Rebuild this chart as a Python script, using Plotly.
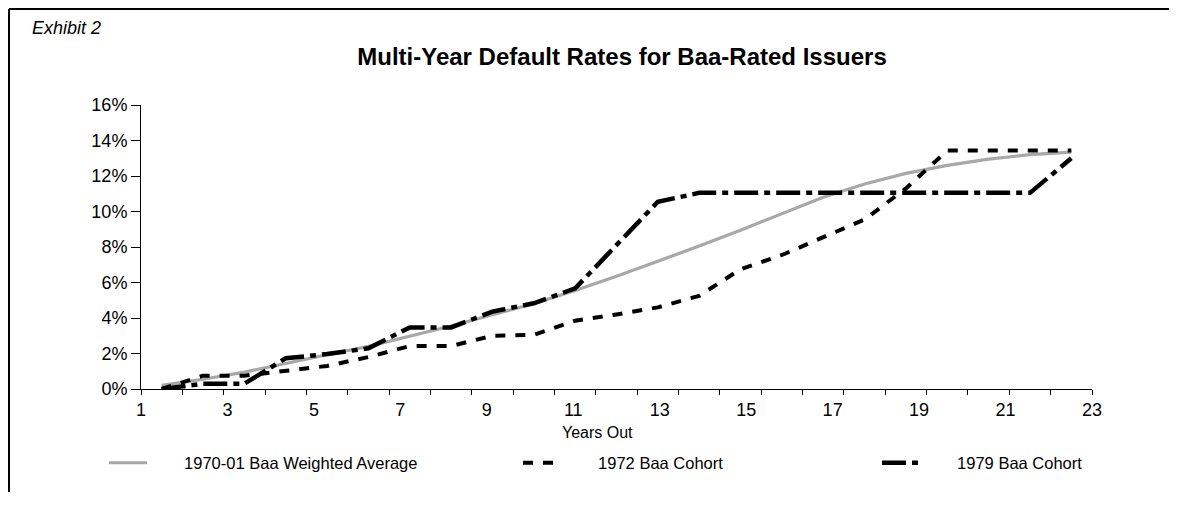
import plotly.graph_objects as go

years = list(range(1, 24))
weighted_avg = [0.2, 0.55, 0.95, 1.45, 1.93, 2.4, 2.98, 3.55, 4.18, 4.82, 5.55, 6.35,
                7.2, 8.05, 8.95, 9.88, 10.8, 11.55, 12.15, 12.6, 12.95, 13.2, 13.35]
cohort_1972 = [0.0, 0.75, 0.75, 1.05, 1.3, 1.8, 2.42, 2.42, 3.0, 3.05, 3.85, 4.2,
               4.6, 5.25, 6.75, 7.55, 8.55, 9.55, 11.3, 13.43, 13.43, 13.43, 13.43]
cohort_1979 = [0.0, 0.3, 0.3, 1.73, 1.97, 2.29, 3.47, 3.47, 4.36, 4.83, 5.67, 8.1,
               10.55, 11.05, 11.05, 11.05, 11.05, 11.05, 11.05, 11.05, 11.05, 11.05, 13.0]
series_names = ["1970-01 Baa Weighted Average", "1972 Baa Cohort", "1979 Baa Cohort"]
x_tick_labels = [1, 3, 5, 7, 9, 11, 13, 15, 17, 19, 21, 23]
y_ticks = [0, 2, 4, 6, 8, 10, 12, 14, 16]

FONT = "Liberation Sans, Arial, Helvetica, sans-serif"
PAD = "\u00a0" * 7

fig = go.Figure()
fig.add_trace(go.Scatter(x=years, y=weighted_avg, mode="lines", name=PAD + series_names[0],
                         line=dict(color="#a8a8a8", width=3.2), legend="legend"))
fig.add_trace(go.Scatter(x=years, y=cohort_1972, mode="lines", name=PAD + series_names[1],
                         line=dict(color="black", width=4, dash="10px,10px"), legend="legend2"))
fig.add_trace(go.Scatter(x=years, y=cohort_1979, mode="lines", name=PAD + series_names[2],
                         line=dict(color="black", width=4.5, dash="24px,6px,6px,6px"), legend="legend3"))

n = len(years)
lo, hi = years[0] - 0.5, years[-1] + 0.5
first, last = x_tick_labels[0], x_tick_labels[-1]
label_pos = [lo + (k - first) * (hi - lo) / (last - first) for k in x_tick_labels]

OFF = 8  # page body margin
W, H = 1183 - 2 * OFF - 6, 506 - 2 * OFF - 6
L, T = 141 - OFF, 105 - OFF
R = W - (1092 - OFF)
B = H - (389 - OFF)
pw, ph = W - L - R, H - T - B

def sx(px):
    return (px - OFF - L) / pw

def sy(py):
    return (H - B - (py - OFF)) / ph

leg_common = dict(orientation="h", xanchor="left", yanchor="middle",
                  font=dict(family=FONT, size=16.5, color="black"),
                  bgcolor="rgba(0,0,0,0)", borderwidth=0, itemwidth=38)

fig.update_layout(
    width=W, height=H, autosize=False, showlegend=True,
    margin=dict(l=L, r=R, t=T, b=B),
    paper_bgcolor="white", plot_bgcolor="white",
    title=dict(text="<b>Multi-Year Default Rates for Baa-Rated Issuers</b>",
               font=dict(family=FONT, size=24, color="black"),
               x=sx(622), xref="paper", xanchor="center",
               y=1 - (57 - OFF) / H, yref="container", yanchor="middle"),
    xaxis=dict(range=[lo, hi], showgrid=False, zeroline=False,
               showline=True, linecolor="black", linewidth=1,
               tickmode="array", tickvals=label_pos, ticktext=[str(k) for k in x_tick_labels],
               ticks="outside", ticklen=4, tickcolor="rgba(0,0,0,0)",
               tickfont=dict(family=FONT, size=18, color="black"),
               minor=dict(tickmode="array", tickvals=[lo + i for i in range(n + 1)],
                          ticks="outside", ticklen=5, tickcolor="black", tickwidth=1, showgrid=False)),
    yaxis=dict(range=[0, 16], showgrid=False, zeroline=False,
               showline=True, linecolor="black", linewidth=1,
               tickmode="array", tickvals=y_ticks, ticktext=[f"{v}%" for v in y_ticks],
               ticks="outside", ticklen=9, tickcolor="black", tickwidth=1,
               tickfont=dict(family=FONT, size=18, color="black")),
    legend=dict(x=sx(104), y=sy(463), **leg_common),
    legend2=dict(x=sx(518), y=sy(463), **leg_common),
    legend3=dict(x=sx(877), y=sy(463), **leg_common),
    annotations=[
        dict(text="<i>Exhibit 2</i>", x=sx(30), y=sy(28), xref="paper", yref="paper",
             xanchor="left", yanchor="middle", showarrow=False,
             font=dict(family=FONT, size=18, color="black")),
        dict(text="Years Out", x=sx(597), y=sy(432), xref="paper", yref="paper",
             xanchor="center", yanchor="middle", showarrow=False,
             font=dict(family=FONT, size=16, color="black")),
    ],
    shapes=[
        dict(type="line", xref="paper", yref="paper", x0=sx(OFF + 1), x1=sx(W + 40),
             y0=sy(OFF + 1), y1=sy(OFF + 1), line=dict(color="black", width=2)),
        dict(type="line", xref="paper", yref="paper", x0=sx(OFF + 1), x1=sx(OFF + 1),
             y0=sy(OFF + 1), y1=sy(H + 40), line=dict(color="black", width=2)),
    ],
)

fig.write_html("out.html")
